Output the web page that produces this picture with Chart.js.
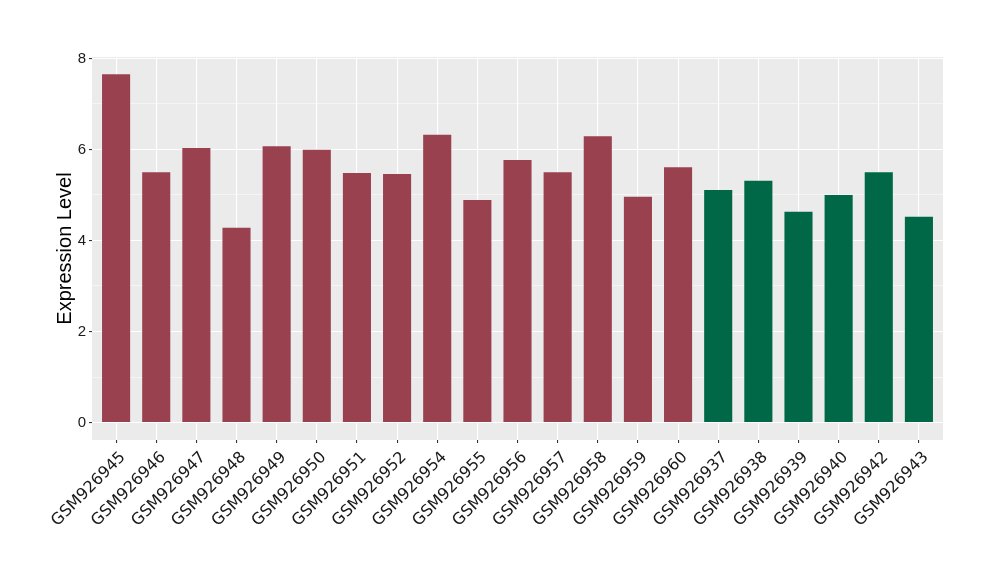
<!DOCTYPE html>
<html>
<head>
<meta charset="utf-8">
<script src="https://cdn.jsdelivr.net/npm/chart.js@4"></script>
<style>
  html, body { margin: 0; padding: 0; background: #fff; }
  #wrap { width: 1000px; height: 580px; }
</style>
</head>
<body>
<div id="wrap"><canvas id="myChart" width="1000" height="580"></canvas></div>
<script>
// sample names, in plotted order
var samples = ['GSM926945','GSM926946','GSM926947','GSM926948','GSM926949','GSM926950','GSM926951',
  'GSM926952','GSM926954','GSM926955','GSM926956','GSM926957','GSM926958','GSM926959','GSM926960',
  'GSM926937','GSM926938','GSM926939','GSM926940','GSM926942','GSM926943'];

// expression values
var expression = [7.65, 5.50, 6.03, 4.28, 6.07, 5.99, 5.48, 5.46, 6.32, 4.89, 5.77, 5.50, 6.29, 4.96, 5.61,
  5.11, 5.31, 4.63, 5.00, 5.50, 4.52];

// group of each sample (first 15 one group, last 6 the other)
var groups = ['A','A','A','A','A','A','A','A','A','A','A','A','A','A','A','B','B','B','B','B','B'];
var groupColors = { A: '#9A4150', B: '#006846' };

var yTicks = [0, 1, 2, 3, 4, 5, 6, 7, 8];

var panelBg = {
  id: 'panelBg',
  beforeDraw: function(chart) {
    var a = chart.chartArea, c = chart.ctx;
    c.save();
    c.fillStyle = '#EBEBEB';
    c.fillRect(a.left, a.top, a.right - a.left, a.bottom - a.top);
    c.restore();
  }
};

var ctx = document.getElementById('myChart').getContext('2d');

var myChart = new Chart(ctx, {
  type: 'bar',
  data: {
    datasets: [{
      label: 'Expression Level',
      data: expression.map(function(v, i) { return { x: i, y: v }; }),
      backgroundColor: groups.map(function(g) { return groupColors[g]; }),
      borderWidth: 0,
      barPercentage: 0.7,
      categoryPercentage: 1
    }]
  },
  options: {
    responsive: false,
    animation: false,
    layout: { padding: { left: 0, right: 57, top: 57, bottom: 0 } },
    plugins: {
      legend: { display: false },
      tooltip: { enabled: false }
    },
    scales: {
      x: {
        type: 'linear',
        offset: false,
        min: -0.6,
        max: samples.length - 1 + 0.6,
        afterBuildTicks: function(axis) {
          axis.ticks = samples.map(function(s, i) { return { value: i }; });
        },
        afterFit: function(axis) { axis.height = 140; },
        grid: {
          offset: false,
          color: '#FFFFFF',
          lineWidth: 1.1,
          drawTicks: true,
          tickLength: 3,
          tickColor: '#333333'
        },
        border: { display: false },
        ticks: {
          autoSkip: false,
          maxRotation: 45,
          minRotation: 45,
          padding: 5,
          labelOffset: 7,
          color: '#1a1a1a',
          font: { family: 'DejaVu Sans', size: 16 },
          callback: function(v) { return samples[v]; }
        }
      },
      y: {
        min: -0.383,
        max: 8.03,
        afterBuildTicks: function(axis) {
          axis.ticks = yTicks.map(function(v) { return { value: v }; });
        },
        afterFit: function(axis) { axis.width = 92; },
        grid: {
          color: '#FFFFFF',
          lineWidth: function(c) { return c.tick && c.tick.value % 2 === 0 ? 1.1 : 0.5; },
          drawTicks: true,
          tickLength: 3,
          tickColor: function(c) { return c.tick && c.tick.value % 2 === 0 ? '#333333' : 'rgba(0,0,0,0)'; }
        },
        border: { display: false },
        title: {
          display: true,
          text: 'Expression Level',
          color: '#000000',
          font: { family: 'Liberation Sans', size: 20 },
          padding: { top: 53, bottom: 0 }
        },
        ticks: {
          padding: 3,
          color: '#1a1a1a',
          font: { family: 'Liberation Sans', size: 15 },
          callback: function(v) { return v % 2 === 0 ? String(v) : ''; }
        }
      }
    }
  },
  plugins: [panelBg]
});
</script>
</body>
</html>
